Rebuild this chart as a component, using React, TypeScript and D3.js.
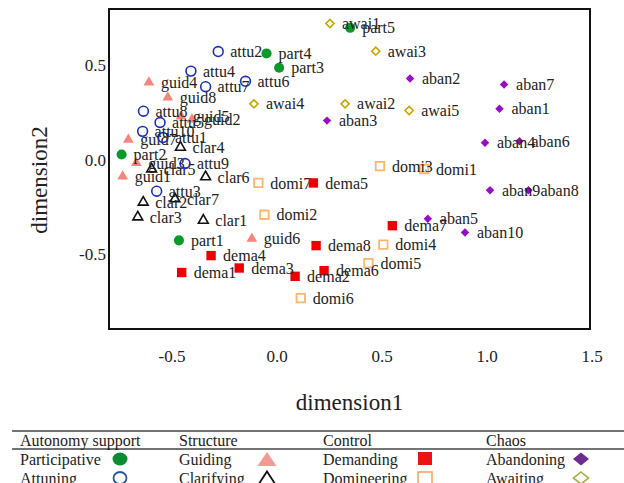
import React from "react";
import * as d3 from "d3";

// MDS coordinates
const partNames = ["part1", "part2", "part3", "part4", "part5"];
const partX = [-0.467, -0.74, 0.01, -0.05, 0.348];
const partY = [-0.429, 0.027, 0.488, 0.564, 0.7];

const attuNames = ["attu1", "attu2", "attu3", "attu4", "attu5", "attu6", "attu7", "attu8", "attu9", "attu10"];
const attuX = [-0.543, -0.28, -0.573, -0.41, -0.557, -0.15, -0.34, -0.636, -0.438, -0.64];
const attuY = [0.117, 0.574, -0.168, 0.47, 0.197, 0.416, 0.387, 0.257, -0.021, 0.15];

const guidNames = ["guid1", "guid2", "guid3", "guid4", "guid5", "guid6", "guid7", "guid8"];
const guidX = [-0.735, -0.405, -0.67, -0.61, -0.457, -0.12, -0.708, -0.52];
const guidY = [-0.089, 0.213, -0.018, 0.41, 0.23, -0.42, 0.106, 0.33];

const clarNames = ["clar1", "clar2", "clar3", "clar4", "clar5", "clar6", "clar7"];
const clarX = [-0.351, -0.637, -0.663, -0.46, -0.597, -0.34, -0.486];
const clarY = [-0.323, -0.227, -0.305, 0.065, -0.05, -0.092, -0.209];

const demaNames = ["dema1", "dema2", "dema3", "dema4", "dema5", "dema6", "dema7", "dema8"];
const demaX = [-0.454, 0.086, -0.18, -0.314, 0.173, 0.224, 0.549, 0.186];
const demaY = [-0.6, -0.62, -0.576, -0.51, -0.124, -0.59, -0.351, -0.457];

const domiNames = ["domi1", "domi2", "domi3", "domi4", "domi5", "domi6", "domi7"];
const domiX = [0.7, -0.06, 0.49, 0.506, 0.435, 0.113, -0.089];
const domiY = [-0.05, -0.293, -0.035, -0.452, -0.55, -0.736, -0.124];

const abanNames = ["aban1", "aban2", "aban3", "aban4", "aban5", "aban6", "aban7", "aban8", "aban9", "aban10"];
const abanX = [1.059, 0.633, 0.238, 0.99, 0.718, 1.154, 1.081, 1.197, 1.014, 0.895];
const abanY = [0.27, 0.431, 0.207, 0.089, -0.314, 0.097, 0.399, -0.163, -0.163, -0.387];

const awaiNames = ["awai1", "awai2", "awai3", "awai4", "awai5"];
const awaiX = [0.252, 0.324, 0.47, -0.11, 0.629];
const awaiY = [0.723, 0.296, 0.576, 0.296, 0.261];

const xTicks = [-0.5, 0, 0.5, 1, 1.5];
const yTicks = [-0.5, 0, 0.5];

const legendHeads = ["Autonomy support", "Structure", "Control", "Chaos"];
const legendRow1 = ["Participative", "Guiding", "Demanding", "Abandoning"];
const legendRow2 = ["Attuning", "Clarifying", "Domineering", "Awaiting"];

const FONT = "'Liberation Serif', 'DejaVu Serif', serif";

type Group = {
  names: string[]; xs: number[]; ys: number[];
  shape: d3.SymbolType; size: number; fill: string; stroke: string; sw: number;
};

const groups: Group[] = [
  { names: clarNames, xs: clarX, ys: clarY, shape: d3.symbolTriangle, size: 42, fill: "none", stroke: "#111", sw: 1.6 },
  { names: guidNames, xs: guidX, ys: guidY, shape: d3.symbolTriangle, size: 50, fill: "#f7857d", stroke: "none", sw: 0 },
  { names: attuNames, xs: attuX, ys: attuY, shape: d3.symbolCircle, size: 76, fill: "none", stroke: "#1a2fc0", sw: 1.6 },
  { names: partNames, xs: partX, ys: partY, shape: d3.symbolCircle, size: 80, fill: "#0a9a2a", stroke: "none", sw: 0 },
  { names: domiNames, xs: domiX, ys: domiY, shape: d3.symbolSquare, size: 72, fill: "none", stroke: "#fdb56f", sw: 1.8 },
  { names: demaNames, xs: demaX, ys: demaY, shape: d3.symbolSquare, size: 88, fill: "#ee0000", stroke: "none", sw: 0 },
  { names: awaiNames, xs: awaiX, ys: awaiY, shape: d3.symbolDiamond2, size: 42, fill: "none", stroke: "#c8a600", sw: 1.6 },
  { names: abanNames, xs: abanX, ys: abanY, shape: d3.symbolDiamond2, size: 46, fill: "#9a0cc4", stroke: "none", sw: 0 },
];

export default function App() {
  const W = 624, H = 483;
  const left = 109, right = 590, top = 9, bottom = 329;

  const x = d3.scaleLinear().domain([-0.8, 1.49]).range([left, right]);
  const y = d3.scaleLinear().domain([-0.9, 0.8]).range([bottom, top]);

  const colX = [20, 179, 323, 486];
  const markX = [120, 267, 425, 581];

  const tri = (cx: number, cy: number, w: number, h: number) =>
    `M${cx},${cy - h / 2}L${cx + w / 2},${cy + h / 2}L${cx - w / 2},${cy + h / 2}Z`;
  const dia = (cx: number, cy: number, w: number, h: number) =>
    `M${cx},${cy - h / 2}L${cx + w / 2},${cy}L${cx},${cy + h / 2}L${cx - w / 2},${cy}Z`;

  return (
    <svg width={W} height={H} style={{ position: "absolute", left: 0, top: 0, background: "#fff" }} fontFamily={FONT}>
      <rect x={left} y={top} width={right - left} height={bottom - top} fill="none" stroke="#111" strokeWidth={2} />

      {xTicks.map((t) => (
        <text key={"x" + t} x={x(t)} y={362} fontSize={17} textAnchor="middle" fill="#222">
          {t.toFixed(1)}
        </text>
      ))}
      {yTicks.map((t) => (
        <text key={"y" + t} x={106} y={y(t)} dy="0.35em" fontSize={17} textAnchor="end" fill="#222">
          {t.toFixed(1)}
        </text>
      ))}
      <text x={(left + right) / 2} y={410} fontSize={23} textAnchor="middle" fill="#222">dimension1</text>
      <text transform="translate(47,180) rotate(-90)" fontSize={23} textAnchor="middle" fill="#222">dimension2</text>

      {groups.map((g, gi) => (
        <g key={"g" + gi}>
          {g.names.map((n, i) => (
            <path
              key={n}
              d={d3.symbol().type(g.shape).size(g.size)()!}
              transform={`translate(${x(g.xs[i])},${y(g.ys[i])})`}
              fill={g.fill}
              stroke={g.stroke}
              strokeWidth={g.sw}
            />
          ))}
          {g.names.map((n, i) => (
            <text key={n + "t"} x={x(g.xs[i]) + 12} y={y(g.ys[i])} dy="0.35em" fontSize={16} fill="#222">
              {n}
            </text>
          ))}
        </g>
      ))}

      {/* legend table */}
      <line x1={12} x2={624} y1={431} y2={431} stroke="#444" strokeWidth={1.3} />
      <line x1={12} x2={624} y1={449} y2={449} stroke="#444" strokeWidth={1.3} />
      {legendHeads.map((h, i) => (
        <text key={h} x={colX[i]} y={446} fontSize={16} fill="#222">{h}</text>
      ))}
      {legendRow1.map((h, i) => (
        <text key={h} x={colX[i]} y={465} fontSize={16} fill="#222">{h}</text>
      ))}
      {legendRow2.map((h, i) => (
        <text key={h} x={colX[i]} y={484} fontSize={16} fill="#222">{h}</text>
      ))}
      <ellipse cx={markX[0]} cy={459} rx={7.5} ry={6.5} fill="#0c8c2f" />
      <ellipse cx={markX[0]} cy={478} rx={6.5} ry={6} fill="none" stroke="#2957a4" strokeWidth={1.8} />
      <path d={tri(markX[1], 459, 19, 14)} fill="#f29b94" />
      <path d={tri(markX[1], 478, 17, 13)} fill="none" stroke="#111" strokeWidth={1.8} />
      <rect x={markX[2] - 7} y={452} width={14} height={13} fill="#ee1111" />
      <rect x={markX[2] - 7} y={472} width={14} height={13} fill="none" stroke="#f8a65c" strokeWidth={1.6} />
      <path d={dia(markX[3], 459, 16, 13)} fill="#6c2c91" />
      <path d={dia(markX[3], 478, 15, 12)} fill="none" stroke="#a7a839" strokeWidth={1.6} />
    </svg>
  );
}
